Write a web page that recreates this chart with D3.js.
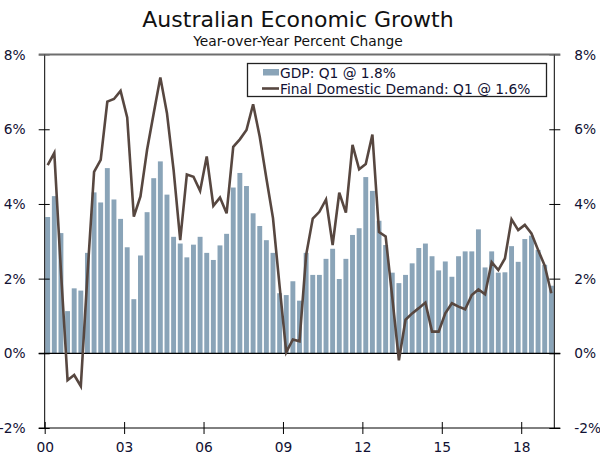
<!DOCTYPE html>
<html>
<head>
<meta charset="utf-8">
<script src="https://cdn.jsdelivr.net/npm/d3@7"></script>
<style>
  html, body { margin: 0; padding: 0; background: #ffffff; }
  svg { display: block; font-family: "DejaVu Sans", Verdana, sans-serif; }
</style>
</head>
<body>
<svg id="chart" width="600" height="456"></svg>
<script>
// ---------- data ----------
const startYear = 2000;
const quarters = d3.range(77).map(i => (startYear + Math.floor(i / 4)) + "Q" + (i % 4 + 1));

const gdp = [
  3.65, 4.21, 3.22, 1.13, 1.74, 1.68, 2.69, 4.31, 4.04, 4.96, 4.12, 3.60,
  2.84, 1.45, 2.62, 3.78, 4.69, 5.14, 4.25, 3.12, 2.94, 2.57, 2.91, 3.12,
  2.69, 2.50, 2.89, 3.20, 4.44, 4.83, 4.48, 3.75, 3.41, 3.03, 2.69, 1.61,
  1.56, 1.93, 1.41, 2.69, 2.10, 2.10, 2.53, 2.80, 1.99, 2.53, 3.17, 3.35,
  4.72, 4.35, 3.55, 2.90, 2.16, 1.88, 2.10, 2.41, 2.82, 2.94, 2.60, 2.22,
  2.46, 2.05, 2.60, 2.73, 2.73, 3.32, 2.30, 2.73, 2.16, 2.17, 2.87, 2.45,
  3.06, 3.15, 2.77, 2.37, 1.81
];

const finalDomesticDemand = [
  5.04, 5.37, 2.20, -0.72, -0.58, -0.88, 2.10, 4.86, 5.18, 6.74, 6.81, 7.03,
  6.32, 3.66, 4.20, 5.45, 6.43, 7.39, 6.43, 4.91, 3.03, 4.79, 4.73, 4.35,
  5.27, 3.95, 4.17, 3.75, 5.53, 5.73, 5.98, 6.67, 5.80, 4.69, 3.62, 1.79,
  0.03, 0.37, 0.32, 2.63, 3.61, 3.79, 4.12, 2.90, 4.30, 3.77, 5.58, 4.93,
  5.07, 5.86, 3.25, 3.13, 1.50, -0.19, 0.90, 1.07, 1.21, 1.36, 0.58, 0.58,
  1.07, 1.34, 1.25, 1.18, 1.56, 1.71, 1.58, 2.44, 2.23, 2.54, 3.59, 3.30,
  3.44, 3.21, 2.77, 2.35, 1.61
];

const yTicks = [-2, 0, 2, 4, 6, 8];
const xTickYears = [2000, 2003, 2006, 2009, 2012, 2015, 2018];
const xTickLabels = ["00", "03", "06", "09", "12", "15", "18"];

const titleText = "Australian Economic Growth";
const subtitleText = "Year-over-Year Percent Change";
const legendLabels = ["GDP: Q1 @ 1.8%", "Final Domestic Demand: Q1 @ 1.6%"];

// ---------- layout ----------
const plotL = 44.7, plotR = 554.3, plotT = 54.6, plotB = 428;
const barColor = "#8aa4b8";
const lineColor = "#574740";
const textColor = "#111133";
const labelSize = 13.8;

const svg = d3.select("#chart");

const y = d3.scaleLinear().domain([-2, 8]).range([plotB, plotT]);
const xBand = d3.scaleBand().domain(quarters).range([plotL, plotR]).paddingInner(0.26).paddingOuter(0.08);
const xYear = d3.scaleLinear().domain([2000, 2019.25]).range([plotL, plotR]);

// title
svg.append("text").attr("x", 298).attr("y", 27).attr("text-anchor", "middle")
  .attr("font-size", 22).attr("fill", "#111111").text(titleText);
svg.append("text").attr("x", 298).attr("y", 46).attr("text-anchor", "middle")
  .attr("font-size", 13.8).attr("fill", "#111111").text(subtitleText);

// bars
svg.append("g").selectAll("rect").data(gdp).join("rect")
  .attr("x", (d, i) => xBand(quarters[i]))
  .attr("width", xBand.bandwidth())
  .attr("y", d => y(Math.max(0, d)))
  .attr("height", d => Math.abs(y(d) - y(0)))
  .attr("fill", barColor);

// top line at 8%
svg.append("line").attr("x1", plotL - 6).attr("x2", plotR + 6)
  .attr("y1", y(8)).attr("y2", y(8)).attr("stroke", "#6e6e6e").attr("stroke-width", 2);

// zero line
svg.append("line").attr("x1", plotL - 6).attr("x2", plotR + 6)
  .attr("y1", y(0)).attr("y2", y(0)).attr("stroke", "#000").attr("stroke-width", 1.2);

// left axis
const yAxisL = svg.append("g").attr("transform", `translate(${plotL},0)`)
  .call(d3.axisLeft(y).tickValues(yTicks).tickFormat(d => d + "%").tickSize(6).tickPadding(13));
yAxisL.select(".domain").attr("d", `M0,${y(8)}V${y(-2)}`).attr("stroke", "#000");
yAxisL.selectAll(".tick line").attr("x1", -6).attr("x2", 5).attr("stroke", "#000");
yAxisL.selectAll(".tick text").attr("font-size", labelSize).attr("fill", textColor)
  .attr("font-family", "DejaVu Sans, Verdana, sans-serif");

// right axis
const yAxisR = svg.append("g").attr("transform", `translate(${plotR},0)`)
  .call(d3.axisRight(y).tickValues(yTicks).tickFormat(d => d + "%").tickSize(6).tickPadding(14));
yAxisR.select(".domain").attr("d", `M0,${y(8)}V${y(-2)}`).attr("stroke", "#000");
yAxisR.selectAll(".tick line").attr("x1", -5).attr("x2", 6).attr("stroke", "#000");
yAxisR.selectAll(".tick text").attr("font-size", labelSize).attr("fill", textColor)
  .attr("font-family", "DejaVu Sans, Verdana, sans-serif");
yAxisL.selectAll(".tick").filter(d => d === 8).select("line").attr("stroke", "#6e6e6e");
yAxisR.selectAll(".tick").filter(d => d === 8).select("line").attr("stroke", "#6e6e6e");

// bottom axis
const xAxis = svg.append("g").attr("transform", `translate(0,${plotB})`)
  .call(d3.axisBottom(xYear).tickValues(xTickYears).tickFormat((d, i) => xTickLabels[i]).tickSize(6).tickPadding(8));
xAxis.select(".domain").attr("d", `M${plotL - 6},0H${plotR + 6}`).attr("stroke", "#000");
xAxis.selectAll(".tick line").attr("y1", -6).attr("y2", 6).attr("stroke", "#000");
xAxis.selectAll(".tick text").attr("font-size", labelSize).attr("fill", textColor)
  .attr("font-family", "DejaVu Sans, Verdana, sans-serif");

// line
const line = d3.line()
  .x((d, i) => xBand(quarters[i]) + xBand.bandwidth() / 2)
  .y(d => y(d));
svg.append("path").datum(finalDomesticDemand)
  .attr("d", line).attr("fill", "none").attr("stroke", lineColor)
  .attr("stroke-width", 2.6).attr("stroke-linejoin", "miter");

// legend
const lg = svg.append("g");
lg.append("rect").attr("x", 247.5).attr("y", 63.5).attr("width", 299).attr("height", 33)
  .attr("fill", "#fff").attr("stroke", "#222").attr("stroke-width", 1.3);
lg.append("rect").attr("x", 263).attr("y", 69).attr("width", 16).attr("height", 6.5).attr("fill", barColor);
lg.append("line").attr("x1", 262).attr("x2", 279).attr("y1", 88.5).attr("y2", 88.5)
  .attr("stroke", lineColor).attr("stroke-width", 2.6);
lg.append("text").attr("x", 280).attr("y", 77.5).attr("font-size", labelSize).attr("fill", textColor).text(legendLabels[0]);
lg.append("text").attr("x", 280).attr("y", 93.5).attr("font-size", labelSize).attr("fill", textColor).text(legendLabels[1]);
</script>
</body>
</html>
